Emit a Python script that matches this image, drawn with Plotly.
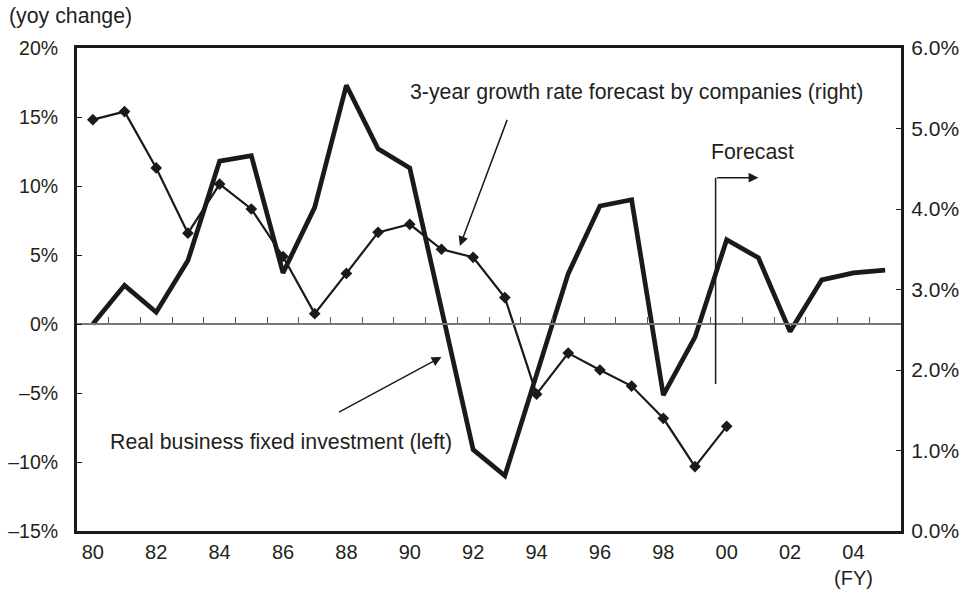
import plotly.graph_objects as go

# Fiscal years on the horizontal axis
years = list(range(1980, 2006))

# Real business fixed investment, yoy % change (left axis)
investment = [0.0, 2.8, 0.85, 4.6, 11.8, 12.2, 3.7, 8.45, 17.3, 12.7,
              11.3, 1.0, -9.1, -11.0, -3.6, 3.65, 8.55, 9.0, -5.15, -0.95,
              6.1, 4.8, -0.55, 3.2, 3.7, 3.9]

# 3-year growth rate forecast by companies, % (right axis)
forecast_years = list(range(1980, 2001))
forecast = [5.11, 5.21, 4.51, 3.70, 4.31, 4.00, 3.41, 2.70, 3.20, 3.71,
            3.81, 3.50, 3.40, 2.90, 1.70, 2.21, 2.00, 1.80, 1.40, 0.80, 1.30]

# Tick labels
x_tickvals = list(range(1980, 2005, 2))
x_ticktext = [f"{y % 100:02d}" for y in x_tickvals]
x_ticktext[-1] = x_ticktext[-1] + "<br>(FY)"
left_tickvals = [-15, -10, -5, 0, 5, 10, 15, 20]
left_ticktext = [("\u2013" + f"{abs(v)}%") if v < 0 else f"{v}%" for v in left_tickvals]
right_tickvals = [0, 1, 2, 3, 4, 5, 6]
right_ticktext = [f"{v:.1f}%" for v in right_tickvals]

INK = "#1a1a1a"
TEXT = "#231f20"
FONT = "Liberation Sans, Arial, Helvetica, sans-serif"
NOTE = 21.3

fig = go.Figure()

fig.add_trace(go.Scatter(
    x=years, y=investment, mode="lines",
    line=dict(color=INK, width=4.7), yaxis="y", xaxis="x",
    name="Real business fixed investment (left)", showlegend=False,
    hoverinfo="skip",
))
fig.add_trace(go.Scatter(
    x=forecast_years, y=forecast, mode="lines+markers",
    line=dict(color=INK, width=2.2),
    marker=dict(symbol="diamond", size=9, color=INK),
    yaxis="y2", xaxis="x",
    name="3-year growth rate forecast by companies (right)", showlegend=False,
))
# carrier for the zero-line axis with its between-year tick marks
fig.add_trace(go.Scatter(
    x=years, y=[None] * len(years), mode="lines", xaxis="x2", yaxis="y",
    showlegend=False, hoverinfo="skip",
))

x_range = [1979.5, 2005.5]

fig.update_layout(
    width=963, height=591,
    margin=dict(l=77, r=62, t=48, b=60, autoexpand=False),
    paper_bgcolor="white", plot_bgcolor="white",
    font=dict(family=FONT, size=19, color=TEXT),
    xaxis=dict(
        range=x_range, tickmode="array", tickvals=x_tickvals, ticktext=x_ticktext,
        ticks="", showgrid=False, zeroline=False, automargin=False,
        showline=True, linecolor=INK, linewidth=3, mirror=True,
        tickfont=dict(size=20), ticklabelstandoff=1,
    ),
    # zero line with tick marks between fiscal years
    xaxis2=dict(
        range=x_range, overlaying="x", anchor="free", position=15 / 35,
        tickmode="array", tickvals=[y + 0.5 for y in years[:-1]],
        ticks="inside", ticklen=6, tickwidth=1.3, tickcolor="#555555",
        showticklabels=False, showgrid=False, zeroline=False, automargin=False,
        showline=True, linecolor="#777777", linewidth=1.6,
    ),
    yaxis=dict(
        range=[-15, 20], tickmode="array", tickvals=left_tickvals, ticktext=left_ticktext,
        ticks="inside", ticklen=5, tickwidth=1.3, tickcolor=INK,
        showgrid=False, zeroline=False, automargin=False,
        showline=True, linecolor=INK, linewidth=3, mirror=True,
        tickfont=dict(size=19.5), ticklabelstandoff=12,
    ),
    yaxis2=dict(
        range=[0, 6], overlaying="y", side="right", anchor="x",
        tickmode="array", tickvals=right_tickvals, ticktext=right_ticktext,
        ticks="inside", ticklen=5, tickwidth=1.3, tickcolor=INK,
        showgrid=False, zeroline=False, automargin=False,
        showline=True, linecolor=INK, linewidth=3,
        tickfont=dict(size=21), ticklabelstandoff=3,
    ),
)

# Forecast marker: vertical rule plus arrow pointing right
fig.add_shape(type="line", xref="x", yref="y",
              x0=1999.65, x1=1999.65, y0=-4.35, y1=10.6,
              line=dict(color=INK, width=1.5))

annotations = [
    dict(text="(yoy change)", xref="paper", yref="paper", x=-0.085, y=1.066,
         xanchor="left", yanchor="middle", showarrow=False, font=dict(size=NOTE)),
    dict(text="3-year growth rate forecast by companies (right)", xref="x", yref="y",
         x=1997.15, y=16.8, xanchor="center", yanchor="middle", showarrow=False,
         font=dict(size=NOTE)),
    dict(text="Forecast", xref="x", yref="y", x=2000.8, y=12.5,
         xanchor="center", yanchor="middle", showarrow=False, font=dict(size=NOTE)),
    dict(text="Real business fixed investment (left)", xref="x", yref="y",
         x=1980.47, y=-8.53, xanchor="left", yanchor="middle", showarrow=False,
         font=dict(size=NOTE)),
    # arrows
    dict(text="", xref="x", yref="y", axref="x", ayref="y",
         x=1991.58, y=5.65, ax=1993.09, ay=14.9,
         showarrow=True, arrowhead=2, arrowsize=1.3, arrowwidth=1.5, arrowcolor=INK),
    dict(text="", xref="x", yref="y", axref="x", ayref="y",
         x=1991.0, y=-2.39, ax=1987.72, ay=-6.45,
         showarrow=True, arrowhead=2, arrowsize=1.3, arrowwidth=1.5, arrowcolor=INK),
    dict(text="", xref="x", yref="y", axref="x", ayref="y",
         x=2001.0, y=10.6, ax=1999.65, ay=10.6,
         showarrow=True, arrowhead=2, arrowsize=1.3, arrowwidth=1.5, arrowcolor=INK),
]
for a in annotations:
    fig.add_annotation(**a)

fig.write_html("out.html")
